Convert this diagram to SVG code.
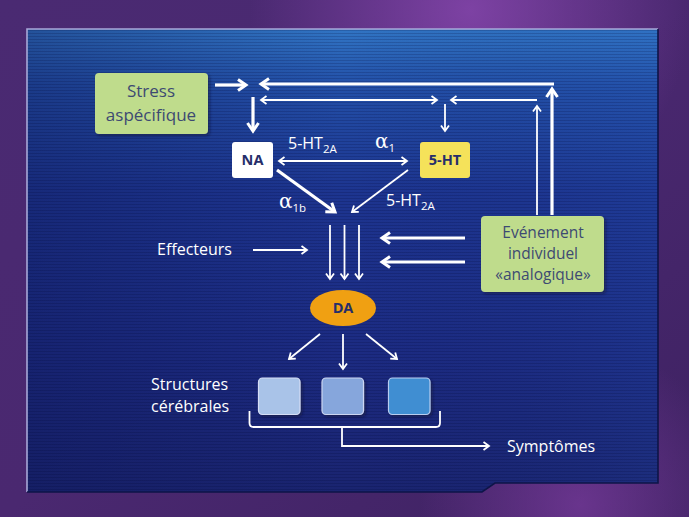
<svg xmlns="http://www.w3.org/2000/svg" width="689" height="517" viewBox="0 0 689 517">
<defs>
<linearGradient id="bgP" x1="0" y1="0" x2="1" y2="1">
<stop offset="0" stop-color="#4a2a72"/>
<stop offset="0.5" stop-color="#4a2870"/>
<stop offset="1" stop-color="#3e2262"/>
</linearGradient>
<radialGradient id="glow1" cx="470" cy="10" r="220" gradientUnits="userSpaceOnUse">
<stop offset="0" stop-color="#8a48b0" stop-opacity="0.8"/>
<stop offset="1" stop-color="#8a48b0" stop-opacity="0"/>
</radialGradient>
<radialGradient id="glow2" cx="580" cy="505" r="160" gradientUnits="userSpaceOnUse">
<stop offset="0" stop-color="#7a3c9e" stop-opacity="0.7"/>
<stop offset="1" stop-color="#7a3c9e" stop-opacity="0"/>
</radialGradient>
<linearGradient id="panel" x1="0" y1="29" x2="0" y2="493" gradientUnits="userSpaceOnUse">
<stop offset="0" stop-color="#3175c4"/>
<stop offset="0.12" stop-color="#2350a8"/>
<stop offset="0.35" stop-color="#1d3590"/>
<stop offset="0.7" stop-color="#1c2b82"/>
<stop offset="1" stop-color="#1a2470"/>
</linearGradient>
<linearGradient id="panelSide" x1="27" y1="0" x2="658" y2="0" gradientUnits="userSpaceOnUse">
<stop offset="0" stop-color="#0c1450" stop-opacity="0.35"/>
<stop offset="0.5" stop-color="#0c1450" stop-opacity="0"/>
<stop offset="1" stop-color="#2a60c0" stop-opacity="0.15"/>
</linearGradient>
<pattern id="scan" width="4" height="3" patternUnits="userSpaceOnUse">
<rect width="4" height="1" fill="#000830" opacity="0.18"/>
</pattern>
<marker id="hT" markerUnits="userSpaceOnUse" viewBox="-12 -8 16 16" refX="0" refY="0" markerWidth="16" markerHeight="16" orient="auto-start-reverse">
<path d="M-8,-5.5 L0,0 L-8,5.5" fill="none" stroke="#ffffff" stroke-width="3"/>
</marker>
<marker id="hN" markerUnits="userSpaceOnUse" viewBox="-12 -8 16 16" refX="0" refY="0" markerWidth="16" markerHeight="16" orient="auto-start-reverse">
<path d="M-5.5,-4 L0,0 L-5.5,4" fill="none" stroke="#ffffff" stroke-width="1.8"/>
</marker>
<filter id="sh" x="-20%" y="-20%" width="150%" height="150%">
<feDropShadow dx="2" dy="2" stdDeviation="1.5" flood-color="#0a0a30" flood-opacity="0.5"/>
</filter>
</defs>
<style>
.thick{stroke:#ffffff;stroke-width:3.2;fill:none;marker-end:url(#hT)}
.thin{stroke:#ffffff;stroke-width:1.8;fill:none;marker-end:url(#hN)}
.both{marker-start:url(#hN)}
.lbl{font-family:"Open Sans","Noto Sans",sans-serif;font-size:16px;fill:#ffffff}
.box{font-family:"Open Sans","Noto Sans",sans-serif;font-size:17px;fill:#3d4a72;text-anchor:middle}
.ev{font-family:"Open Sans","Noto Sans",sans-serif;font-size:15.5px;fill:#3d4a72;text-anchor:middle}
.bold{font-family:"Open Sans","Noto Sans",sans-serif;font-size:14.5px;font-weight:bold;fill:#262e6a;text-anchor:middle}
.greek{font-family:"DejaVu Serif","Liberation Serif",serif;font-size:20px;fill:#ffffff}
.sub{font-family:"Open Sans","Noto Sans",sans-serif;font-size:11.5px;fill:#ffffff}
</style>
<rect width="689" height="517" fill="url(#bgP)"/>
<rect width="689" height="517" fill="url(#glow1)"/>
<rect width="689" height="517" fill="url(#glow2)"/>
<g id="panel">
<path d="M27,29 L658,29 L658,483 L495,483 L482,492 L27,492 Z" fill="url(#panel)"/>
<path d="M27,29 L658,29 L658,483 L495,483 L482,492 L27,492 Z" fill="url(#panelSide)"/>
<path d="M27,29 L658,29 L658,483 L495,483 L482,492 L27,492 Z" fill="url(#scan)"/>
<path d="M27,492 L27,29 L658,29" fill="none" stroke="#a8a8d8" stroke-width="1.6"/>
<path d="M658,29 L658,483 L495,483 L482,492 L27,492" fill="none" stroke="#0e1548" stroke-width="1.6"/>
</g>
<g id="stress">
<rect x="95" y="73" width="113" height="61" rx="4" fill="#bfdc8c" filter="url(#sh)"/>
<text class="box" x="151" y="97">Stress</text>
<text class="box" x="151" y="121">aspécifique</text>
</g>
<g id="na">
<rect x="232" y="142" width="41" height="36" rx="3" fill="#ffffff"/>
<text class="bold" x="252.5" y="165">NA</text>
</g>
<g id="ht">
<rect x="420" y="142" width="50" height="36" rx="3" fill="#f5e25a"/>
<text class="bold" x="445" y="165">5-HT</text>
</g>
<g id="evenement">
<rect x="481" y="216" width="123" height="76" rx="4" fill="#bfdc8c" filter="url(#sh)"/>
<text class="ev" x="543" y="238">Evénement</text>
<text class="ev" x="543" y="259">individuel</text>
<text class="ev" x="543" y="280">«analogique»</text>
</g>
<g id="da">
<ellipse cx="343" cy="308" rx="33" ry="18" fill="#f0a012"/>
<text class="bold" x="343" y="313">DA</text>
</g>
<g id="structures">
<rect x="258.5" y="378" width="41.5" height="36.5" rx="4" fill="#a9c3e8" stroke="#d6def6" stroke-width="1.2" filter="url(#sh)"/>
<rect x="322" y="378" width="41.5" height="36.5" rx="4" fill="#86a6dc" stroke="#ccd6f2" stroke-width="1.2" filter="url(#sh)"/>
<rect x="388.5" y="378" width="41.5" height="36.5" rx="4" fill="#3f8ed2" stroke="#b8cdf0" stroke-width="1.2" filter="url(#sh)"/>
</g>
<g id="labels">
<text class="lbl" x="288" y="149">5-HT<tspan class="sub" dy="4">2A</tspan></text>
<text class="greek" x="375" y="148">α<tspan class="sub" dy="4">1</tspan></text>
<text class="greek" x="279" y="208">α<tspan class="sub" dy="4">1b</tspan></text>
<text class="lbl" x="386" y="206">5-HT<tspan class="sub" dy="4">2A</tspan></text>
<text class="lbl" x="157" y="255">Effecteurs</text>
<text class="lbl" x="151" y="390">Structures</text>
<text class="lbl" x="151" y="412">cérébrales</text>
<text class="lbl" x="507" y="452">Symptômes</text>
</g>
<g id="connectors">
<line class="thick" x1="215" y1="85" x2="246" y2="85"/>
<line class="thick" x1="554" y1="84" x2="261" y2="84"/>
<line class="thin both" x1="261" y1="100" x2="437" y2="100"/>
<line class="thin" x1="537" y1="100" x2="451" y2="100"/>
<line class="thick" x1="253" y1="97" x2="253" y2="131"/>
<line class="thin" x1="445" y1="104" x2="445" y2="131"/>
<line class="thin" x1="537" y1="215" x2="537" y2="106"/>
<line class="thick" x1="552" y1="215" x2="552" y2="89"/>
<line class="thin both" x1="279" y1="161" x2="407" y2="161"/>
<line class="thick" x1="277" y1="170" x2="335" y2="212"/>
<line class="thin" x1="408" y1="170" x2="352" y2="212"/>
<line class="thin" x1="330" y1="225" x2="330" y2="279"/>
<line class="thin" x1="344.5" y1="225" x2="344.5" y2="279"/>
<line class="thin" x1="359" y1="225" x2="359" y2="279"/>
<line class="thin" x1="253" y1="250" x2="307" y2="250"/>
<line class="thick" x1="465" y1="238" x2="382" y2="238"/>
<line class="thick" x1="465" y1="262" x2="382" y2="262"/>
<line class="thin" x1="320" y1="334" x2="289" y2="359"/>
<line class="thin" x1="343" y1="334" x2="343" y2="369"/>
<line class="thin" x1="366" y1="334" x2="397" y2="359"/>
<path d="M249.5,411 L249.5,423 Q249.5,427 253.5,427 L436,427 Q440,427 440,423 L440,411" fill="none" stroke="#ffffff" stroke-width="1.8"/>
<path class="thin" d="M342,427 L342,446 L489,446"/>
</g>
</svg>
